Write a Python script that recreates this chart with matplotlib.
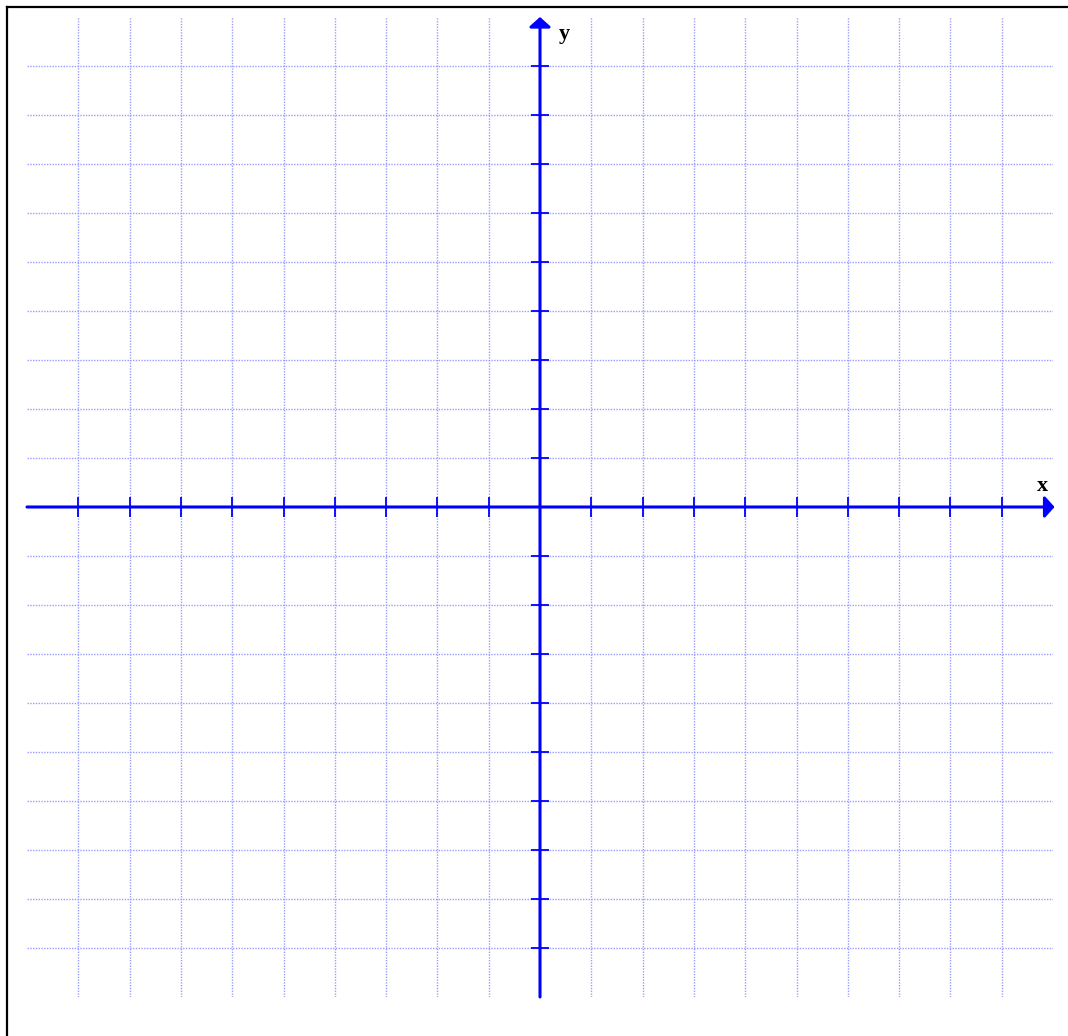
import matplotlib
matplotlib.use('Agg')
import matplotlib.pyplot as plt
from matplotlib.lines import Line2D

#%% grid / axis values (units)
x_min, x_max = -10, 10
y_min, y_max = -10, 10
grid_x = [-9, -8, -7, -6, -5, -4, -3, -2, -1, 1, 2, 3, 4, 5, 6, 7, 8, 9]
grid_y = [-9, -8, -7, -6, -5, -4, -3, -2, -1, 1, 2, 3, 4, 5, 6, 7, 8, 9]
axis_labels = ['x', 'y']

grid_col = '#9c9cff'
axis_col = '#0000ff'

W, H = 1068, 1036
fig = plt.figure(figsize=(W/100, H/100), dpi=100)
ax = fig.add_axes([27/W, (H-997)/H, 1026/W, 980/H])
ax.set_xlim(x_min, x_max)
ax.set_ylim(y_min, y_max)
ax.axis('off')

# grid punteada
ax.vlines(grid_x, y_min, y_max, colors=grid_col, linestyles=(0, (1, 1)), lw=1)
ax.hlines(grid_y, x_min, x_max, colors=grid_col, linestyles=(0, (1, 1)), lw=1)

# ejes con flecha
arrow = dict(arrowstyle='-|>,head_length=5.8,head_width=6.5', color=axis_col,
             lw=2.2, shrinkA=0, shrinkB=0, mutation_scale=1)
ax.annotate('', xy=(x_max + 0.03, 0), xytext=(x_min, 0), arrowprops=arrow,
            annotation_clip=False)
ax.annotate('', xy=(0, y_max), xytext=(0, y_min), arrowprops=arrow,
            annotation_clip=False)

# marcas
ax.vlines(grid_x, -0.2, 0.2, colors=axis_col, lw=1.3)
ax.hlines(grid_y, -0.18, 0.18, colors=axis_col, lw=1.3)

ax.text(9.8, 0.43, axis_labels[0], ha='center', va='center', fontsize=16,
        fontweight='bold', family='Liberation Serif')
ax.text(0.47, 9.65, axis_labels[1], ha='center', va='center', fontsize=16,
        fontweight='bold', family='Liberation Serif')

# borde
bx = 7/W
by = 1 - 7/H
fig.add_artist(Line2D([bx, bx], [0, by], color='black', lw=1.6))
fig.add_artist(Line2D([bx, 1], [by, by], color='black', lw=1.6))

fig.savefig('out.png', dpi=100)
